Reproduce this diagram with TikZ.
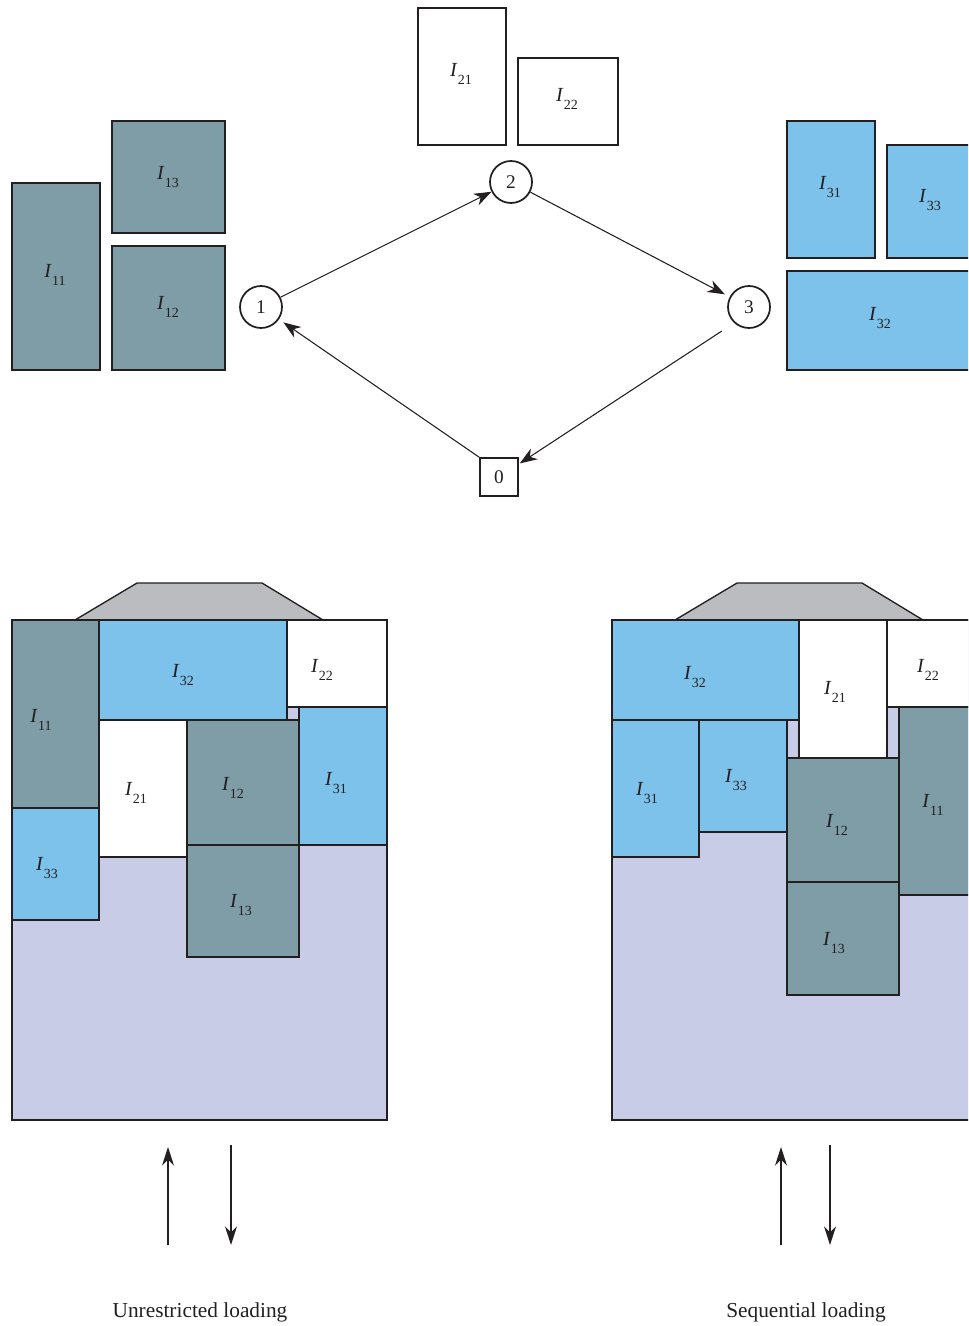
\documentclass[tikz,border=0pt]{standalone}
\usepackage{fontspec}
\setmainfont{Liberation Serif}
\usetikzlibrary{arrows.meta}
\definecolor{slate}{RGB}{127,157,167}
\definecolor{sky}{RGB}{125,194,234}
\definecolor{hold}{RGB}{200,204,230}
\definecolor{roof}{RGB}{187,188,192}
\definecolor{ink}{RGB}{35,31,32}
% item label: italic I with a lowered index
\newcommand\itm[1]{\textit{I}\kern0.2pt\raisebox{-5.5pt}{\fontsize{10.5}{11}\selectfont #1}}

\begin{document}
\begin{tikzpicture}[x=0.75pt,y=-0.75pt,
  box/.style={draw=ink,line width=1pt},
  slatebox/.style={box,fill=slate},
  skybox/.style={box,fill=sky},
  whitebox/.style={box,fill=white},
  lbl/.style={font=\fontsize{15}{17}\selectfont,inner sep=0pt,text=ink},
  stop/.style={circle,draw=ink,line width=1.3pt,minimum size=31.5pt,inner sep=0pt,
    font=\fontsize{14.5}{16}\selectfont,text=ink},
  depot/.style={rectangle,draw=ink,line width=1pt,minimum size=28.5pt,inner sep=0pt,
    font=\fontsize{14.5}{16}\selectfont,text=ink},
  route/.style={draw=ink,line width=0.8pt,-{Stealth[length=13pt,width=9.5pt,inset=4pt]}},
  flow/.style={draw=ink,line width=0.9pt,-{Stealth[length=14pt,width=9pt,inset=4.5pt]}},
  caption/.style={font=\fontsize{16}{19}\selectfont,inner sep=0pt,text=ink},
]
\clip (0,0) rectangle (968,1326);

% ---- items of customer 1
\draw[slatebox] (12,183) rectangle (100,370);   \node[lbl] (t11) at (55,275) {\itm{11}};
\draw[slatebox] (112,121) rectangle (225,233);  \node[lbl] (t13) at (168,177) {\itm{13}};
\draw[slatebox] (112,246) rectangle (225,370);  \node[lbl] (t12) at (168,307) {\itm{12}};

% ---- items of customer 2
\draw[whitebox] (418,8) rectangle (506,145);    \node[lbl] (t21) at (461,74) {\itm{21}};
\draw[whitebox] (518,58) rectangle (618,145);   \node[lbl] (t22) at (567,99) {\itm{22}};

% ---- items of customer 3
\draw[skybox] (787,121) rectangle (875,258);    \node[lbl] (t31) at (830,187) {\itm{31}};
\draw[skybox] (887,145) rectangle (975,258);    \node[lbl] (t33) at (930,200) {\itm{33}};
\draw[skybox] (787,271) rectangle (975,370);    \node[lbl] (t32) at (880,318) {\itm{32}};

% ---- route
\node[stop] (n1) at (261,307) {1};
\node[stop] (n2) at (511,182) {2};
\node[stop] (n3) at (749,307) {3};
\node[depot] (n0) at (499,477) {0};
\draw[route] (n1) -- (n2);
\draw[route,shorten >=4pt] (n2) -- (n3);
\draw[route,shorten <=11pt,shorten >=1pt] (n3.227) -- (n0);
\draw[route,shorten >=4pt] (n0.north west) -- (n1);

% ---- unrestricted loading
\draw[box,fill=hold] (12,620) rectangle (387,1120);
\draw[box,fill=roof] (75,620) -- (137,583) -- (262,583) -- (323,620);
\draw[slatebox] (12,620) rectangle (99,808);    \node[lbl] (u11) at (41,720) {\itm{11}};
\draw[skybox] (12,808) rectangle (99,920);      \node[lbl] (u33) at (47,868) {\itm{33}};
\draw[skybox] (99,620) rectangle (287,720);     \node[lbl] (u32) at (183,675) {\itm{32}};
\draw[whitebox] (287,620) rectangle (387,707);  \node[lbl] (u22) at (322,670) {\itm{22}};
\draw[whitebox] (99,720) rectangle (187,857);   \node[lbl] (u21) at (136,793) {\itm{21}};
\draw[slatebox] (187,720) rectangle (299,845);  \node[lbl] (u12) at (233,788) {\itm{12}};
\draw[slatebox] (187,845) rectangle (299,957);  \node[lbl] (u13) at (241,905) {\itm{13}};
\draw[skybox] (299,707) rectangle (387,845);    \node[lbl] (u31) at (336,783) {\itm{31}};

% ---- sequential loading
\draw[box,fill=hold] (612,620) rectangle (987,1120);
\draw[box,fill=roof] (675,620) -- (737,583) -- (862,583) -- (923,620);
\draw[skybox] (612,620) rectangle (799,720);    \node[lbl] (s32) at (695,677) {\itm{32}};
\draw[whitebox] (799,620) rectangle (887,758);  \node[lbl] (s21) at (835,692) {\itm{21}};
\draw[whitebox] (887,620) rectangle (987,707);  \node[lbl] (s22) at (928,670) {\itm{22}};
\draw[skybox] (612,720) rectangle (699,857);    \node[lbl] (s31) at (647,793) {\itm{31}};
\draw[skybox] (699,720) rectangle (787,832);    \node[lbl] (s33) at (736,780) {\itm{33}};
\draw[slatebox] (787,758) rectangle (899,882);  \node[lbl] (s12) at (837,825) {\itm{12}};
\draw[slatebox] (787,882) rectangle (899,995);  \node[lbl] (s13) at (834,943) {\itm{13}};
\draw[slatebox] (899,707) rectangle (987,895);  \node[lbl] (s11) at (933,805) {\itm{11}};

% ---- loading / unloading directions
\coordinate (ua0) at (168,1245); \coordinate (ua1) at (168,1147);
\coordinate (ub0) at (231,1145); \coordinate (ub1) at (231,1245);
\coordinate (sa0) at (781,1245); \coordinate (sa1) at (781,1147);
\coordinate (sb0) at (830,1145); \coordinate (sb1) at (830,1245);
\draw[flow] (ua0) -- (ua1);
\draw[flow] (ub0) -- (ub1);
\draw[flow] (sa0) -- (sa1);
\draw[flow] (sb0) -- (sb1);

\node[caption] (cu) at (200,1312) {Unrestricted loading};
\node[caption] (cs) at (806,1312) {Sequential loading};
\end{tikzpicture}
\end{document}
